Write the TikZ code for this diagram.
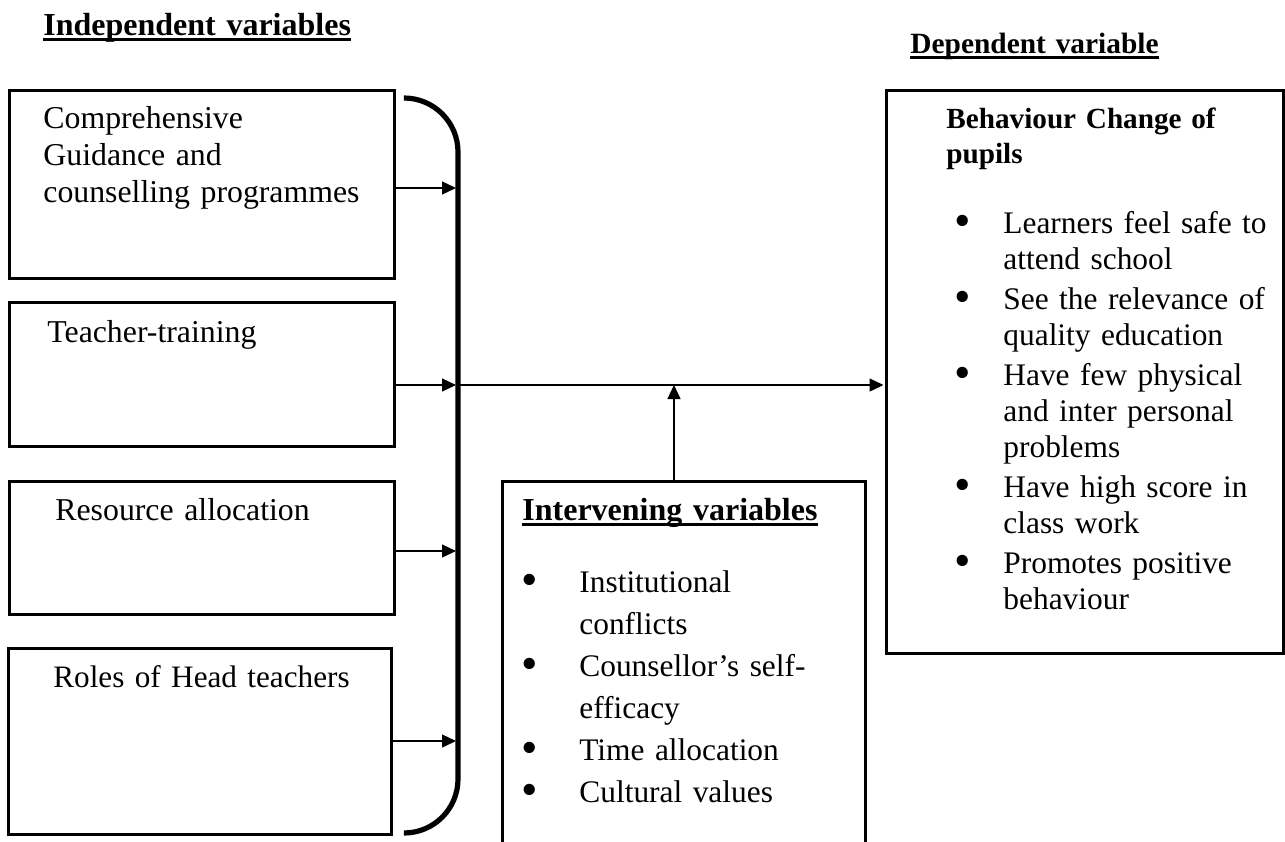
\documentclass[tikz,border=0pt]{standalone}
\usepackage{fontspec}
\usepackage{graphicx}
\setmainfont{Liberation Serif}
\usetikzlibrary{arrows.meta}

\newsavebox{\headbox}
\newcommand{\ulhead}[1]{\sbox{\headbox}{#1}\rlap{\rule[-3.2pt]{\wd\headbox}{1.5pt}}\usebox{\headbox}}
\newcommand{\bigdot}{\raisebox{-1.8pt}{\scalebox{1.5}{\textbullet}}}
\newcommand{\depbullet}{\noindent\llap{\makebox[24.65pt][l]{\bigdot}}}
\newcommand{\intbullet}{\noindent\llap{\makebox[29.15pt][l]{\bigdot}}}

\tikzset{
  varbox/.style={draw, line width=1.5pt, inner sep=0pt, anchor=north west},
  txt/.style={inner sep=0pt, anchor=base west, align=left, text width=#1},
  link/.style={line width=0.65pt, -{Triangle[length=7pt,width=6.5pt]}},
  brace/.style={line width=2.6pt, rounded corners=27pt},
}

\begin{document}
\begin{tikzpicture}[x=0.5pt,y=0.5pt,yscale=-1]
\useasboundingbox (0,0) rectangle (1285,841);

% Text Node
\node[txt=200pt, font=\fontsize{16}{19}\selectfont\bfseries] (indep) at (43,35) {\ulhead{Independent variables}};
% Text Node
\node[txt=150pt, font=\fontsize{14.7}{17}\selectfont\bfseries] (dephead) at (910,53) {\ulhead{Dependent variable}};

%Shape: Rectangle
\node[varbox, minimum width=192.5pt, minimum height=94pt] (comp) at (8,89) {};
\node[varbox, minimum width=192.5pt, minimum height=72pt] (teach) at (8,301) {};
\node[varbox, minimum width=192.5pt, minimum height=66.5pt] (res) at (8,480) {};
\node[varbox, minimum width=191.5pt, minimum height=93pt] (roles) at (7,647) {};
\node[varbox, minimum width=181.5pt, minimum height=200pt] (inter) at (501,480) {};
\node[varbox, minimum width=198.5pt, minimum height=281.5pt] (dep) at (885,89) {};

% Text Node
\node[txt=185pt, font=\fontsize{15.9}{18.5}\selectfont] (compt) at (43,128) {Comprehensive\\Guidance and\\counselling programmes};
% Text Node
\node[txt=185pt, font=\fontsize{15.9}{18.5}\selectfont] (teacht) at (47,342) {Teacher-training};
% Text Node
\node[txt=185pt, font=\fontsize{15.9}{18.5}\selectfont] (rest) at (55,520) {Resource allocation};
% Text Node
\node[txt=185pt, font=\fontsize{15.6}{18.5}\selectfont] (rolest) at (53,687) {Roles of Head teachers};

% Text Node
\node[txt=170pt, font=\fontsize{16}{19}\selectfont\bfseries] (interhead) at (522,520) {\ulhead{Intervening variables}};
% Text Node
\node[txt=135pt, font=\fontsize{15.7}{21}\selectfont] (intert) at (579,592) {\intbullet Institutional\\conflicts\par
\intbullet Counsellor's self-\\efficacy\par
\intbullet Time allocation\par
\intbullet Cultural values};

% Text Node
\node[txt=180pt, font=\fontsize{14.6}{17.5}\selectfont\bfseries] (depname) at (946,128) {Behaviour Change of\\pupils};
% Text Node
\node[txt=140pt, font=\fontsize{15.7}{18}\selectfont] (dept) at (1003,233) {\depbullet Learners feel safe to\\attend school\par\vspace{2pt}
\depbullet See the relevance of\\quality education\par\vspace{2pt}
\depbullet Have few physical\\and inter personal\\problems\par\vspace{2pt}
\depbullet Have high score in\\class work\par\vspace{2pt}
\depbullet Promotes positive\\behaviour};

%Shape: Bracket
\draw[brace] (405,98) -- (458,98) -- (458,833) -- (406,833);

\coordinate (b1) at (456,188);
\coordinate (hub) at (456,385);
\coordinate (b3) at (456,551);
\coordinate (b4) at (456,741);
\coordinate (join) at (674,385);

%Straight Lines
\draw[link] (comp.east |- b1) -- (b1);
\draw[link] (teach.east |- hub) -- (hub);
\draw[link] (res.east |- b3) -- (b3);
\draw[link] (roles.east |- b4) -- (b4);
\draw[link, shorten >=0.75pt] (hub) -- (dep.west |- hub);
\draw[link] (join |- inter.north) -- (join);

\end{tikzpicture}
\end{document}
